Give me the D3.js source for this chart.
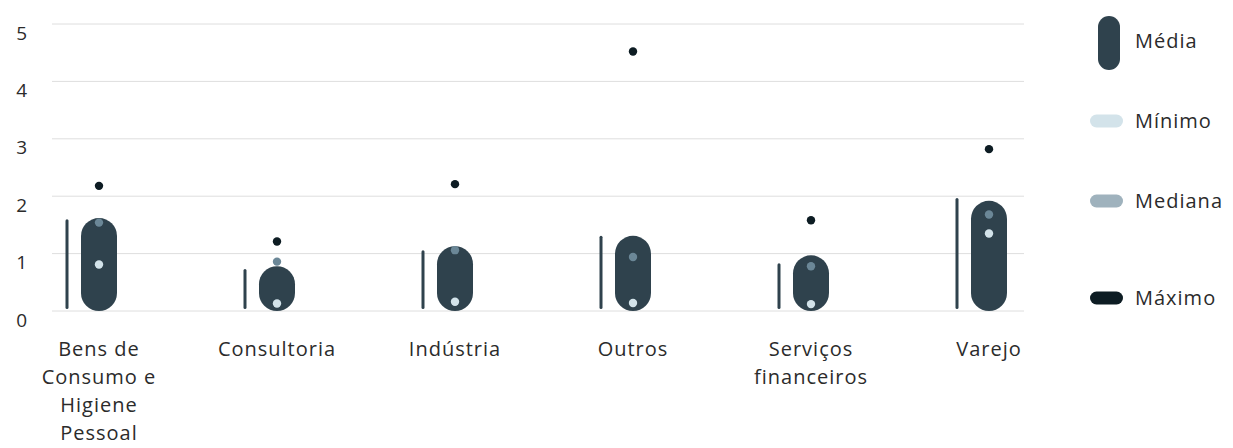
<!DOCTYPE html>
<html>
<head>
<meta charset="utf-8">
<script src="https://cdn.jsdelivr.net/npm/d3@7/dist/d3.min.js"></script>
<style>
  html, body { margin: 0; padding: 0; background: #ffffff; }
  svg { display: block; font-family: "Open Sans", "Noto Sans", sans-serif; }
</style>
</head>
<body>
<svg id="chart" width="1233" height="448"></svg>
<script>
// Setores e estatísticas
const categories = [
  ["Bens de", "Consumo e", "Higiene", "Pessoal"],
  ["Consultoria"],
  ["Indústria"],
  ["Outros"],
  ["Serviços", "financeiros"],
  ["Varejo"]
];
const media   = [1.62, 0.78, 1.13, 1.31, 0.97, 1.92];
const guia    = [1.60, 0.73, 1.06, 1.31, 0.83, 1.97];
const minimo  = [0.81, 0.13, 0.16, 0.14, 0.12, 1.35];
const mediana = [1.54, 0.86, 1.06, 0.94, 0.78, 1.68];
const maximo  = [2.18, 1.21, 2.21, 4.52, 1.58, 2.82];
const yTicks  = [0, 1, 2, 3, 4, 5];
const legendItems = ["Média", "Mínimo", "Mediana", "Máximo"];

const colors = {
  media: "#2f424d",
  minimo: "#d3e3ea",
  medianaDot: "#6b8797",
  mediana: "#9fb2bd",
  maximo: "#0d1c23",
  grid: "#dedede",
  text: "#2b2b2b"
};

const svg = d3.select("#chart");
const keys = categories.map((c, i) => i);

const x = d3.scaleBand().domain(keys).range([10, 1078]).padding(0);
const cx = i => x(i) + x.bandwidth() / 2;
const y = d3.scaleLinear().domain([0, 5]).range([311, 24]);

// Grade horizontal
svg.append("g").selectAll("line").data(yTicks).join("line")
  .attr("x1", 52).attr("x2", 1024)
  .attr("y1", d => y(d)).attr("y2", d => y(d))
  .attr("stroke", colors.grid).attr("stroke-width", 1);

// Rótulos do eixo Y
svg.append("g").selectAll("text").data(yTicks).join("text")
  .attr("x", 27).attr("y", d => y(d) + 9)
  .attr("dy", "0.35em")
  .attr("text-anchor", "end")
  .attr("font-size", 19)
  .attr("fill", colors.text)
  .text(d => d);

// Linha fina à esquerda de cada barra
const lineW = 3;
svg.append("g").selectAll("rect").data(keys).join("rect")
  .attr("x", i => cx(i) - 32 - lineW / 2)
  .attr("width", lineW)
  .attr("y", i => y(guia[i]))
  .attr("height", i => y(0) - 2 - y(guia[i]))
  .attr("rx", 1.5)
  .attr("fill", colors.media);

// Cápsula da média
const barW = 36;
svg.append("g").selectAll("rect").data(keys).join("rect")
  .attr("x", i => cx(i) - barW / 2)
  .attr("width", barW)
  .attr("y", i => y(media[i]))
  .attr("height", i => y(0) - y(media[i]))
  .attr("rx", barW / 2)
  .attr("ry", barW / 2)
  .attr("fill", colors.media);

// Pontos: mínimo, mediana, máximo
const dots = [
  { vals: minimo, fill: colors.minimo },
  { vals: mediana, fill: colors.medianaDot },
  { vals: maximo, fill: colors.maximo }
];
dots.forEach(s => {
  svg.append("g").selectAll("circle").data(keys).join("circle")
    .attr("cx", i => cx(i))
    .attr("cy", i => y(s.vals[i]))
    .attr("r", 4.2)
    .attr("fill", s.fill);
});

// Rótulos das categorias
const labels = svg.append("g").selectAll("text").data(keys).join("text")
  .attr("x", i => cx(i))
  .attr("y", 356)
  .attr("text-anchor", "middle")
  .attr("font-size", 20)
  .attr("letter-spacing", 1)
  .attr("fill", colors.text);
labels.each(function (i) {
  d3.select(this).selectAll("tspan").data(categories[i]).join("tspan")
    .attr("x", cx(i))
    .attr("dy", (d, k) => k === 0 ? 0 : 28)
    .text(d => d);
});

// Legenda
const legend = svg.append("g");
legend.append("rect")
  .attr("x", 1098).attr("y", 16).attr("width", 22).attr("height", 54)
  .attr("rx", 11).attr("fill", colors.media);
const pillY = [121, 201, 298];
const pillFill = [colors.minimo, colors.mediana, colors.maximo];
legend.selectAll("rect.pill").data(pillY).join("rect")
  .attr("class", "pill")
  .attr("x", 1090).attr("width", 33)
  .attr("y", d => d - 6.5).attr("height", 13)
  .attr("rx", 6.5)
  .attr("fill", (d, k) => pillFill[k]);
const textY = [41, 121, 201, 298];
legend.selectAll("text").data(legendItems).join("text")
  .attr("x", 1135)
  .attr("y", (d, k) => textY[k])
  .attr("dy", "0.35em")
  .attr("font-size", 20)
  .attr("letter-spacing", 1)
  .attr("fill", colors.text)
  .text(d => d);
</script>
</body>
</html>
